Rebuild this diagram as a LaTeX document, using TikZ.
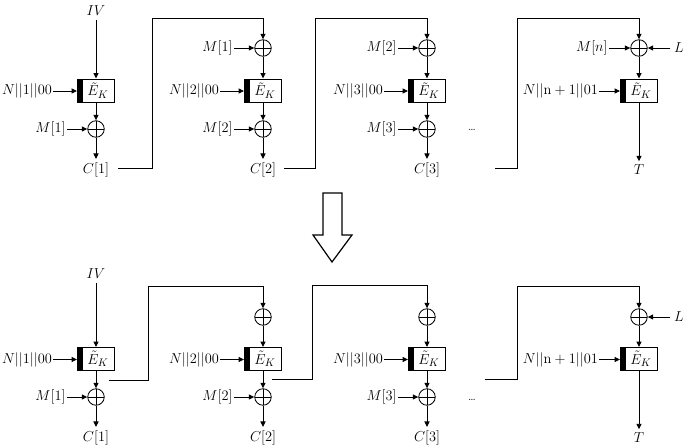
\documentclass[tikz,border=0pt]{standalone}
\usetikzlibrary{arrows.meta}
\begin{document}
\begin{tikzpicture}[x=1pt,y=-1pt, line width=0.95pt,
  every node/.style={font=\fontsize{15.5}{18}\selectfont},
  arr/.style={-{Triangle[length=5.5pt,width=5pt]}},
  xorn/.style={circle,draw,minimum size=16.5pt,inner sep=0pt,line width=0.85pt,
    path picture={\draw[line width=0.85pt] (path picture bounding box.north)--(path picture bounding box.south)
      (path picture bounding box.west)--(path picture bounding box.east);}},
  enc/.style={draw,minimum width=37pt,minimum height=23pt,inner sep=0pt,
    path picture={\fill (path picture bounding box.south west) rectangle ([xshift=5.5pt]path picture bounding box.north west);}},
  lbl/.style={inner sep=1pt,anchor=east},
  nlbl/.style={inner sep=0.5pt,anchor=east,font=\fontsize{15}{18}\selectfont},
  dots/.style={font=\fontsize{12}{14}\selectfont}
]
\useasboundingbox (0,0) rectangle (685,447);

% ---------------- top diagram ----------------
% column 1
\node (ivA) at (96,11) {$IV$};
\node[enc] (bA1) at (96,90.5) {\hspace{4pt}$\tilde{E}_K$};
\node[xorn] (xA1) at (96,129) {};
\node (cA1) at (96,170) {$C[1]$};
\node[nlbl] (nA1) at (53,91) {$N||1||00$};
\node[lbl] (mA1) at (67,129) {$M[1]$};
\draw[arr] (ivA) -- (bA1);
\draw[arr] (nA1.east) -- (nA1.east -| bA1.west);
\draw[arr] (bA1) -- (xA1);
\draw[arr] (mA1.east) -- (mA1.east -| xA1.west);
\draw[arr] (xA1) -- (cA1);
% column 2
\node[xorn] (xA2a) at (263,48) {};
\node[enc] (bA2) at (263,90.5) {\hspace{4pt}$\tilde{E}_K$};
\node[xorn] (xA2b) at (263,129) {};
\node (cA2) at (263,170) {$C[2]$};
\node[lbl] (mA2a) at (234,48) {$M[1]$};
\node[nlbl] (nA2) at (220,91) {$N||2||00$};
\node[lbl] (mA2b) at (234,129) {$M[2]$};
\draw[arr] (mA2a.east) -- (mA2a.east -| xA2a.west);
\draw[arr] (xA2a) -- (bA2);
\draw[arr] (nA2.east) -- (nA2.east -| bA2.west);
\draw[arr] (bA2) -- (xA2b);
\draw[arr] (mA2b.east) -- (mA2b.east -| xA2b.west);
\draw[arr] (xA2b) -- (cA2);
% column 3
\node[xorn] (xA3a) at (427,48) {};
\node[enc] (bA3) at (427,90.5) {\hspace{4pt}$\tilde{E}_K$};
\node[xorn] (xA3b) at (427,129) {};
\node (cA3) at (427,170) {$C[3]$};
\node[lbl] (mA3a) at (398,48) {$M[2]$};
\node[nlbl] (nA3) at (384,91) {$N||3||00$};
\node[lbl] (mA3b) at (398,129) {$M[3]$};
\draw[arr] (mA3a.east) -- (mA3a.east -| xA3a.west);
\draw[arr] (xA3a) -- (bA3);
\draw[arr] (nA3.east) -- (nA3.east -| bA3.west);
\draw[arr] (bA3) -- (xA3b);
\draw[arr] (mA3b.east) -- (mA3b.east -| xA3b.west);
\draw[arr] (xA3b) -- (cA3);
\node[dots] (dA) at (472,130) {\ldots};
% column 4
\node[xorn] (xA4) at (639,48) {};
\node[enc] (bA4) at (639,90.5) {\hspace{4pt}$\tilde{E}_K$};
\node (tA) at (639,170) {$T$};
\node[lbl] (mA4) at (609,48) {$M[n]$};
\node (lA) at (679,48) {$L$};
\node[nlbl] (nA4) at (599,91) {$N||\mathrm{n}+1||01$};
\draw[arr] (mA4.east) -- (mA4.east -| xA4.west);
\draw[arr] (lA.west) -- (lA.west -| xA4.east);
\draw[arr] (xA4) -- (bA4);
\draw[arr] (nA4.east) -- (nA4.east -| bA4.west);
\draw[arr] (bA4) -- (tA);
% feedback lines
\coordinate (fA1) at (118,168);
\coordinate (fA2) at (284,168);
\coordinate (fA3) at (495,168);
\draw[arr] (fA1) -- (152,168) -- (152,18) -- (263,18) -- (xA2a);
\draw[arr] (fA2) -- (315,168) -- (315,18) -- (427,18) -- (xA3a);
\draw[arr] (fA3) -- (517,168) -- (517,18) -- (639,18) -- (xA4);

% ---------------- big hollow arrow ----------------
\draw[line width=1.2pt] (323,193) -- (342,193) -- (342,235) -- (352,235) -- (332,262) -- (313,235) -- (323,235) -- cycle;

% ---------------- bottom diagram ----------------
% column 1
\node (ivB) at (96,274) {$IV$};
\node[enc] (bB1) at (96,359) {\hspace{4pt}$\tilde{E}_K$};
\node[xorn] (xB1) at (96,397) {};
\node (cB1) at (96,438) {$C[1]$};
\node[nlbl] (nB1) at (53,359.5) {$N||1||00$};
\node[lbl] (mB1) at (67,397) {$M[1]$};
\draw[arr] (ivB) -- (bB1);
\draw[arr] (nB1.east) -- (nB1.east -| bB1.west);
\draw[arr] (bB1) -- (xB1);
\draw[arr] (mB1.east) -- (mB1.east -| xB1.west);
\draw[arr] (xB1) -- (cB1);
% column 2
\node[xorn] (xB2a) at (263,317) {};
\node[enc] (bB2) at (263,359) {\hspace{4pt}$\tilde{E}_K$};
\node[xorn] (xB2b) at (263,397) {};
\node (cB2) at (263,438) {$C[2]$};
\node[nlbl] (nB2) at (220,359.5) {$N||2||00$};
\node[lbl] (mB2b) at (234,397) {$M[2]$};
\draw[arr] (xB2a) -- (bB2);
\draw[arr] (nB2.east) -- (nB2.east -| bB2.west);
\draw[arr] (bB2) -- (xB2b);
\draw[arr] (mB2b.east) -- (mB2b.east -| xB2b.west);
\draw[arr] (xB2b) -- (cB2);
% column 3
\node[xorn] (xB3a) at (427,317) {};
\node[enc] (bB3) at (427,359) {\hspace{4pt}$\tilde{E}_K$};
\node[xorn] (xB3b) at (427,397) {};
\node (cB3) at (427,438) {$C[3]$};
\node[nlbl] (nB3) at (384,359.5) {$N||3||00$};
\node[lbl] (mB3b) at (398,397) {$M[3]$};
\draw[arr] (xB3a) -- (bB3);
\draw[arr] (nB3.east) -- (nB3.east -| bB3.west);
\draw[arr] (bB3) -- (xB3b);
\draw[arr] (mB3b.east) -- (mB3b.east -| xB3b.west);
\draw[arr] (xB3b) -- (cB3);
\node[dots] (dB) at (472,400) {\ldots};
% column 4
\node[xorn] (xB4) at (639,317) {};
\node[enc] (bB4) at (639,359) {\hspace{4pt}$\tilde{E}_K$};
\node (tB) at (639,438) {$T$};
\node (lB) at (679,317) {$L$};
\node[nlbl] (nB4) at (599,359.5) {$N||\mathrm{n}+1||01$};
\draw[arr] (lB.west) -- (lB.west -| xB4.east);
\draw[arr] (xB4) -- (bB4);
\draw[arr] (nB4.east) -- (nB4.east -| bB4.west);
\draw[arr] (bB4) -- (tB);
% feedback lines
\coordinate (fB1) at (109,380);
\coordinate (fB2) at (272,379);
\coordinate (fB3) at (485,379);
\draw[arr] (fB1) -- (148,380) -- (148,286) -- (263,286) -- (xB2a);
\draw[arr] (fB2) -- (312,379) -- (312,285) -- (427,285) -- (xB3a);
\draw[arr] (fB3) -- (517,379) -- (517,286) -- (639,286) -- (xB4);
\end{tikzpicture}
\end{document}
